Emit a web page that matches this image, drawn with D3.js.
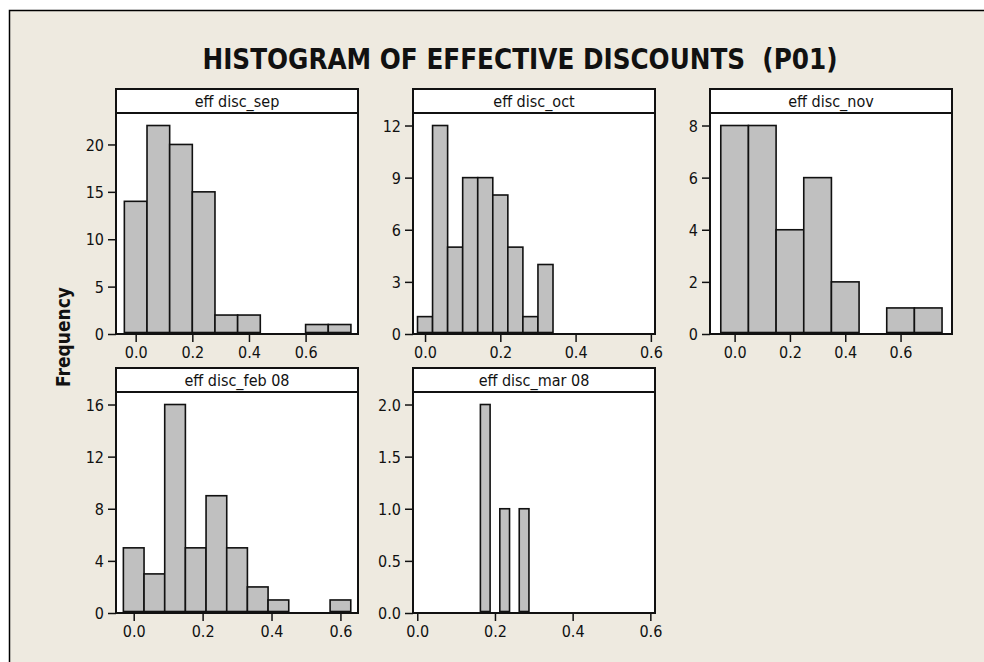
<!DOCTYPE html>
<html>
<head>
<meta charset="utf-8">
<script src="https://cdn.jsdelivr.net/npm/d3@7"></script>
<style>
  html, body { margin: 0; padding: 0; background: #ffffff; }
  svg { display: block; }
  text { font-family: Tahoma, "DejaVu Sans Condensed", "DejaVu Sans", sans-serif; fill: #111; }
</style>
</head>
<body>
<svg id="chart" width="984" height="662"></svg>
<script>
// Panel titles
const panelNames = ["eff disc_sep", "eff disc_oct", "eff disc_nov", "eff disc_feb 08", "eff disc_mar 08"];

// Bin midpoints for each panel
const sepMid = [0, 0.08, 0.16, 0.24, 0.32, 0.40, 0.48, 0.56, 0.64, 0.72];
const octMid = [0, 0.04, 0.08, 0.12, 0.16, 0.20, 0.24, 0.28, 0.32];
const novMid = [0, 0.1, 0.2, 0.3, 0.4, 0.5, 0.6, 0.7];
const febMid = [0, 0.06, 0.12, 0.18, 0.24, 0.30, 0.36, 0.42, 0.48, 0.54, 0.60];
const marMid = [0.175, 0.2, 0.225, 0.25, 0.275];

// Bin widths
const binWidths = [0.08, 0.04, 0.1, 0.06, 0.025];

// Frequencies
const sepCounts = [14, 22, 20, 15, 2, 2, 0, 0, 1, 1];
const octCounts = [1, 12, 5, 9, 9, 8, 5, 1, 4];
const novCounts = [8, 8, 4, 6, 2, 0, 1, 1];
const febCounts = [5, 3, 16, 5, 9, 5, 2, 1, 0, 0, 1];
const marCounts = [2, 0, 1, 0, 1];

// Axis ranges and tick values
const xExtents = [[-0.0695, 0.785], [-0.032, 0.611], [-0.089, 0.786], [-0.0514, 0.651], [-0.011, 0.612]];
const xTicks = [0, 0.2, 0.4, 0.6];
const yTicks = [[0, 5, 10, 15, 20], [0, 3, 6, 9, 12], [0, 2, 4, 6, 8], [0, 4, 8, 12, 16], [0, 0.5, 1.0, 1.5, 2.0]];
const yFormats = ["d", "d", "d", "d", ".1f"];

const mids = [sepMid, octMid, novMid, febMid, marMid];
const counts = [sepCounts, octCounts, novCounts, febCounts, marCounts];

const svg = d3.select("#chart");

// Figure region
svg.append("rect")
  .attr("x", 9.5).attr("y", 10.5)
  .attr("width", 1000).attr("height", 700)
  .attr("fill", "#EEEAE0")
  .attr("stroke", "#000").attr("stroke-width", 1.5);

svg.append("text")
  .attr("x", 520).attr("y", 69)
  .attr("text-anchor", "middle")
  .style("font-weight", "bold")
  .style("font-size", "27.5px")
  .style("white-space", "pre")
  .text("HISTOGRAM OF EFFECTIVE DISCOUNTS  (P01)");

svg.append("text")
  .attr("transform", "translate(70,337) rotate(-90)")
  .attr("text-anchor", "middle")
  .style("font-weight", "bold")
  .style("font-size", "19px")
  .text("Frequency");

// Panel grid
const panelW = 242, stripH = 24, panelH = 245;
const colX = d3.scalePoint().domain([0, 1, 2]).range([116, 710]);
const rowY = d3.scalePoint().domain([0, 1]).range([89, 368]);

panelNames.forEach((name, i) => {
  const left = colX(i % 3), top = rowY(Math.floor(i / 3));
  const plotTop = top + stripH, bottom = top + panelH;
  const g = svg.append("g");

  const x = d3.scaleLinear().domain(xExtents[i]).range([left, left + panelW]);
  const y = d3.scaleLinear().domain([0, d3.max(counts[i]) * 1.06]).range([bottom, plotTop]);
  const base = y(0) - 1.5;

  // plot area
  g.append("rect")
    .attr("x", left).attr("y", plotTop)
    .attr("width", panelW).attr("height", panelH - stripH)
    .attr("fill", "#fff");

  // bars (empty bins show as a line along the base)
  const bins = mids[i].map((m, k) => ({ m, c: counts[i][k] }));
  g.selectAll("rect.bar").data(bins).join("rect")
    .attr("class", "bar")
    .attr("x", d => x(d.m - binWidths[i] / 2))
    .attr("width", d => x(d.m + binWidths[i] / 2) - x(d.m - binWidths[i] / 2))
    .attr("y", d => Math.min(y(d.c), base))
    .attr("height", d => base - Math.min(y(d.c), base))
    .attr("fill", "#C0C0C0")
    .attr("stroke", "#111").attr("stroke-width", 1.6);

  // frame
  g.append("rect")
    .attr("x", left).attr("y", plotTop)
    .attr("width", panelW).attr("height", panelH - stripH)
    .attr("fill", "none").attr("stroke", "#111").attr("stroke-width", 2);

  // strip
  g.append("rect")
    .attr("x", left).attr("y", top)
    .attr("width", panelW).attr("height", stripH)
    .attr("fill", "#fff").attr("stroke", "#111").attr("stroke-width", 2);
  g.append("text")
    .attr("x", left + panelW / 2).attr("y", top + 18)
    .attr("text-anchor", "middle")
    .style("font-size", "16px")
    .text(name);

  // axes
  const xa = g.append("g").attr("transform", `translate(0,${bottom})`)
    .call(d3.axisBottom(x).tickValues(xTicks).tickFormat(d3.format(".1f")).tickSize(8).tickPadding(5));
  const ya = g.append("g").attr("transform", `translate(${left},0)`)
    .call(d3.axisLeft(y).tickValues(yTicks[i]).tickFormat(d3.format(yFormats[i])).tickSize(8).tickPadding(4));
  [xa, ya].forEach(a => {
    a.select(".domain").remove();
    a.selectAll("line").attr("stroke", "#111").attr("stroke-width", 1.5);
    a.selectAll("text").style("font-size", "16px").attr("fill", "#111");
  });
  ya.selectAll("text").attr("dy", "0.36em");
});
</script>
</body>
</html>
